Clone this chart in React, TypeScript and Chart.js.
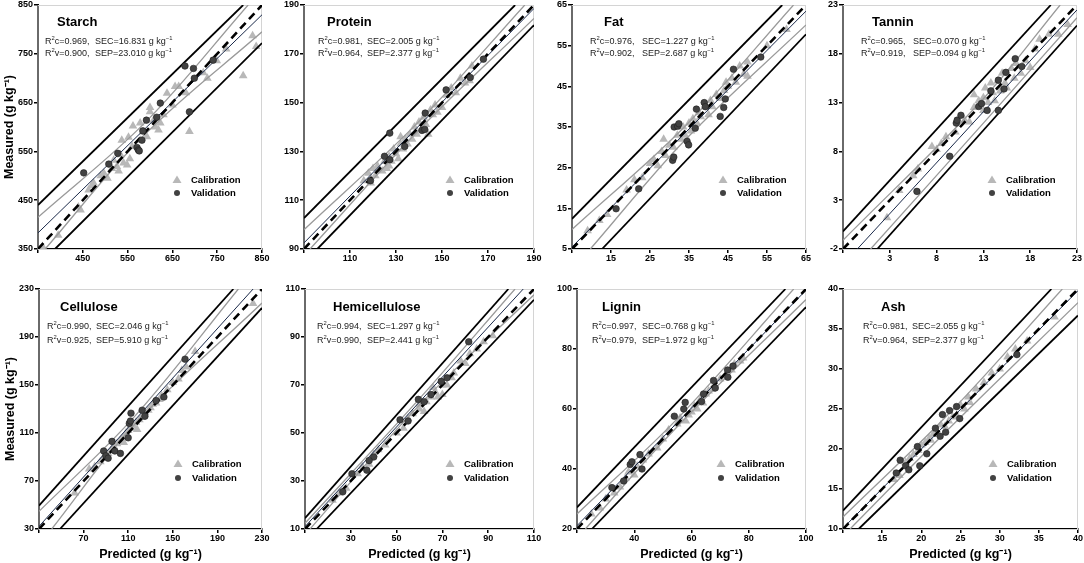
import { useEffect, useRef } from "react";
import { Chart, registerables } from "chart.js";

// register every chart.js component once
Chart.register(...registerables);

type Pt = [number, number];

// ---------------- data ----------------
const panelNames = ["Starch", "Protein", "Fat", "Tannin", "Cellulose", "Hemicellulose", "Lignin", "Ash"];

const axisTicks: number[][] = [
  [350, 450, 550, 650, 750, 850],
  [90, 110, 130, 150, 170, 190],
  [5, 15, 25, 35, 45, 55, 65],
  [-2, 3, 8, 13, 18, 23],
  [30, 70, 110, 150, 190, 230],
  [10, 30, 50, 70, 90, 110],
  [20, 40, 60, 80, 100],
  [10, 15, 20, 25, 30, 35, 40],
];

const r2c = ["0.969", "0.981", "0.976", "0.965", "0.990", "0.994", "0.997", "0.981"];
const sec = ["16.831", "2.005", "1.227", "0.070", "2.046", "1.297", "0.768", "2.055"];
const r2v = ["0.900", "0.964", "0.902", "0.919", "0.925", "0.990", "0.979", "0.964"];
const sep = ["23.010", "2.377", "2.687", "0.094", "5.910", "2.441", "1.972", "2.377"];

// calibration samples (predicted, measured)
const starchCal: Pt[] = [
  [360, 355], [395, 378], [440, 436], [445, 430], [463, 471], [470, 480], [474, 485], [490, 500],
  [497, 505], [505, 495], [515, 515], [519, 532], [526, 519], [530, 510], [534, 543], [541, 526],
  [549, 522], [552, 579], [537, 573], [555, 535], [562, 602], [578, 608], [578, 573], [593, 580],
  [600, 631], [608, 614], [619, 594], [623, 608], [600, 640], [638, 669], [656, 683], [664, 683],
  [680, 670], [688, 591], [719, 711], [728, 700], [749, 736], [770, 760], [808, 705], [829, 787],
  [837, 765], [560, 560], [585, 590], [612, 600], [630, 625], [650, 645],
];
const proteinCal: Pt[] = [
  [116, 118], [118, 121], [119, 117], [121, 120], [122, 124], [124, 122], [125, 126], [126, 123],
  [127, 128], [128, 126], [129, 131], [130, 129], [131, 127], [132, 133], [133, 131], [134, 135],
  [135, 133], [136, 137], [137, 135], [138, 140], [139, 137], [140, 142], [141, 139], [142, 144],
  [143, 141], [144, 137], [145, 147], [146, 145], [147, 149], [148, 146], [150, 148], [152, 153],
  [154, 156], [156, 154], [158, 160], [160, 158], [162, 159], [163, 165], [120, 123], [132, 136],
  [127, 124],
];
const fatCal: Pt[] = [
  [9, 9.5], [12, 12], [14, 13.5], [19, 19.5], [21, 22], [23, 22.5], [25, 26], [26, 27], [27, 25.5],
  [28, 29], [28.5, 32], [29, 28], [30, 30.5], [31, 30], [32, 33], [33, 32], [33.5, 35], [34, 33],
  [35, 36], [35.5, 34], [36, 37], [37, 36], [37.5, 38.5], [38, 37.5], [39, 40], [40, 38],
  [40.5, 41.5], [41, 40], [42, 43], [43, 42], [44, 44], [44.5, 46], [45, 45], [46, 47], [47, 46],
  [48, 50], [49, 48], [50, 51], [50, 47.5], [55, 55], [60, 59],
];
const tanninCal: Pt[] = [
  [2.7, 1.2], [4, 4], [5.5, 5.5], [6, 6.2], [7.5, 8.5], [8, 8.2], [8.5, 8.8], [9, 9.5], [10, 10],
  [11, 11.2], [11.5, 11], [12, 12.5], [12.5, 13.2], [13, 13.5], [13.2, 14.5], [13.5, 13],
  [13.8, 15], [14, 14], [14.2, 13.2], [14.5, 15.2], [14.8, 14.2], [15, 16], [15.3, 15],
  [15.5, 14.5], [16, 16.5], [16.3, 15.5], [16.5, 17], [17, 16], [17.5, 17.3], [18, 16.6],
  [18.5, 18.5], [19, 19.5], [20, 20], [21, 20], [22, 21], [13, 12.2], [12, 13.8],
];
const celluloseCal: Pt[] = [
  [62, 60], [75, 80], [80, 82], [85, 86], [88, 90], [92, 93], [95, 96], [97, 99], [100, 101],
  [103, 104], [105, 106], [108, 110], [110, 112], [113, 114], [115, 116], [117, 119], [120, 121],
  [122, 123], [125, 127], [128, 129], [130, 131], [132, 134], [135, 135], [138, 138], [140, 141],
  [145, 146], [150, 152], [155, 155], [158, 162], [162, 165], [170, 178], [222, 218], [118, 113],
  [106, 102],
];
const hemiCal: Pt[] = [
  [22, 22], [25, 25], [28, 27], [33, 33], [35, 36], [38, 37], [40, 41], [42, 43], [45, 45],
  [50, 50], [53, 52], [55, 56], [57, 58], [60, 60], [62, 59], [63, 63], [65, 65], [67, 67],
  [68, 65], [70, 70], [70, 66], [72, 70], [74, 73], [75, 75], [78, 80], [80, 79], [82, 83],
  [85, 85], [88, 88], [92, 90.5], [60, 62], [66, 69],
];
const ligninCal: Pt[] = [
  [25, 25], [28, 27], [30, 30], [33, 32], [35, 34], [37, 37], [38, 39], [40, 38], [41, 41],
  [43, 43], [45, 45], [48, 47], [50, 50], [52, 53], [55, 55], [56, 57], [58, 56], [59, 58],
  [60, 59], [61, 61], [62, 60], [63, 63], [64, 62], [65, 65], [66, 66], [67, 66.5], [68, 68],
  [70, 70], [72, 71], [74, 73], [75, 75], [77, 76], [78, 77],
];
const ashCal: Pt[] = [
  [16.5, 16.2], [17.2, 16.7], [18, 18.3], [18.5, 18.8], [19, 19.3], [19.6, 19.8], [20, 20.5],
  [20.5, 20.8], [21, 21.3], [21.5, 21.8], [22, 22], [22.5, 23], [23, 22.8], [23.5, 23.5],
  [24, 24], [24.5, 24.2], [25, 25.5], [25.5, 25], [26, 26.5], [26.2, 25.8], [27, 27.5],
  [28, 28.3], [29, 29.5], [30, 30], [31, 31.5], [32, 32.5], [33.5, 33.5], [37, 36.5], [21.2, 21.1],
];

// validation samples (predicted, measured)
const starchVal: Pt[] = [
  [452, 506], [508, 524], [528, 546], [571, 558], [574, 553], [582, 573], [584, 592], [592, 614],
  [615, 620], [623, 649], [678, 725], [697, 720], [699, 700], [741, 737], [688, 631], [576, 551],
];
const proteinVal: Pt[] = [
  [118.9, 118], [125, 128], [127.3, 126.6], [127.3, 137.5], [133.8, 132], [141.3, 138.6],
  [142.5, 139], [142.7, 145.7], [151.8, 155.2], [162.3, 160.3], [168, 167.8],
];
const fatVal: Pt[] = [
  [16.3, 14.9], [22.1, 19.8], [30.8, 26.8], [31.1, 27.6], [31.2, 35], [32.1, 35.2], [32.4, 35.8],
  [34.5, 31.5], [34.9, 30.6], [36.6, 34.7], [36.9, 39.4], [38.9, 41], [39.2, 40], [43, 37.6],
  [43.9, 39.8], [44.3, 41.9], [46.4, 49.2], [53.4, 52.2],
];
const tanninVal: Pt[] = [
  [5.9, 3.9], [9.4, 7.5], [10.1, 10.9], [10.2, 11.2], [10.6, 11.7], [12.5, 12.6], [12.8, 12.9],
  [13.4, 12.2], [14.6, 12.2], [14.6, 15.3], [15.2, 14.4], [15.4, 16.1], [16.4, 17.5],
  [17.1, 16.7], [13.8, 14.2],
];
const celluloseVal: Pt[] = [
  [88, 95], [90, 91], [92, 89], [95.5, 103], [98, 95], [103, 93], [110, 106], [111, 118],
  [112, 120], [112.5, 126.5], [122.5, 129], [125, 124], [135, 137], [142, 140], [161, 171.5],
];
const hemiVal: Pt[] = [
  [26.5, 25.5], [30.5, 33], [37, 34.5], [40, 40], [51.5, 55.5], [55, 55], [59.5, 64], [62, 63],
  [65, 66], [69.5, 71.5], [72, 73], [81.5, 88], [38, 38.5],
];
const ligninVal: Pt[] = [
  [32.2, 33.8], [36.3, 36], [38.6, 41.5], [39.2, 42.4], [42, 44.8], [42.7, 40], [54, 57.6],
  [57.3, 60], [57.8, 62.2], [63.5, 62.5], [64.2, 65], [67.7, 69.5], [68.3, 67], [72.6, 73],
  [72.7, 70.6], [74.5, 74.3],
];
const ashVal: Pt[] = [
  [16.8, 17], [17.3, 18.6], [18, 17.9], [18.4, 17.4], [19.5, 20.3], [19.8, 17.9], [20.7, 19.4],
  [21.8, 22.6], [22.4, 21.6], [22.7, 24.3], [23.1, 22.1], [23.6, 24.8], [24.5, 25.3],
  [24.9, 23.8], [32.2, 31.8],
];

const calibration = [starchCal, proteinCal, fatCal, tanninCal, celluloseCal, hemiCal, ligninCal, ashCal];
const validation = [starchVal, proteinVal, fatVal, tanninVal, celluloseVal, hemiVal, ligninVal, ashVal];

// fitted line and bands, points read at the plot edges (and near the mean for the curved bands)
const fitLine: Pt[][] = [
  [[350, 383], [850, 830]],
  [[90, 92.5], [190, 188.6]],
  [[5, 5.5], [65, 63.5]],
  [[-0.47, -2], [23, 22.5]],
  [[30, 32.2], [222, 230]],
  [[10, 11], [105.3, 110]],
  [[20, 21.1], [100, 99.6]],
  [[10, 10.1], [40, 39.8]],
];
const confUpper: Pt[][] = [
  [[350, 415], [590, 610], [819, 850]],
  [[90, 97.9], [140, 142.3], [186, 190]],
  [[5, 9.8], [34, 35.2], [61.8, 65]],
  [[-2, -1.1], [13, 13.4], [21.2, 23]],
  [[30, 44.7], [115, 123], [208.8, 230]],
  [[10, 12.4], [60, 64.3], [101.7, 110]],
  [[20, 25], [55, 56.7], [95.7, 100]],
  [[10, 11.5], [24, 24.9], [38, 40]],
];
const confLower: Pt[][] = [
  [[366, 350], [590, 586], [850, 795]],
  [[92.6, 90], [140, 138.8], [190, 184.5]],
  [[9.7, 5], [34, 31.8], [65, 60.1]],
  [[0.95, -2], [13, 10.9], [23, 21.7]],
  [[41.4, 30], [115, 116.5], [230, 218.3]],
  [[12.2, 10], [60, 61.7], [110, 107.6]],
  [[22.9, 20], [55, 54.1], [100, 96.5]],
  [[10.9, 10], [24, 23.0], [40, 38.3]],
];
const predUpper: Pt[][] = [
  [[350, 440], [808, 850]],
  [[90, 102.7], [181.8, 190]],
  [[5, 12.4], [58.9, 65]],
  [[-2, -0.2], [20.2, 23]],
  [[30, 49.4], [204.3, 230]],
  [[10, 14.5], [98.8, 110]],
  [[20, 27.2], [92.8, 100]],
  [[10, 12.3], [36.6, 40]],
];
const predLower: Pt[][] = [
  [[388, 350], [850, 772]],
  [[95.8, 90], [190, 181.8]],
  [[12.7, 5], [65, 57.8]],
  [[1.66, -2], [23, 20.9]],
  [[48.8, 30], [230, 214.2]],
  [[15.1, 10], [110, 105.5]],
  [[25.2, 20], [100, 94]],
  [[12, 10], [40, 36.7]],
];

// ---------------- layout / style ----------------
const FONT = "'Liberation Sans', Arial, Helvetica, sans-serif";
const CAL_COLOR = "#b8b8b8";
const VAL_COLOR = "#424242";
const Y_AXIS_W = 38;
const PAD_T = 8;
const PAD_R = 12;

// plot-area box of each panel in page pixels, plus offsets of the in-plot texts
const boxes = [
  { left: 38, top: 5, w: 224, h: 244, titleDx: 19, statDx: 7, statGap: 50, legendDx: 139 },
  { left: 304, top: 5, w: 230, h: 244, titleDx: 23, statDx: 14, statGap: 49, legendDx: 146 },
  { left: 572, top: 5, w: 234, h: 244, titleDx: 32, statDx: 18, statGap: 52, legendDx: 151 },
  { left: 843, top: 5, w: 234, h: 244, titleDx: 29, statDx: 18, statGap: 52, legendDx: 149 },
  { left: 39, top: 289, w: 223, h: 240, titleDx: 21, statDx: 8, statGap: 49, legendDx: 139 },
  { left: 305, top: 289, w: 229, h: 240, titleDx: 28, statDx: 12, statGap: 50, legendDx: 145 },
  { left: 577, top: 289, w: 229, h: 240, titleDx: 25, statDx: 15, statGap: 50, legendDx: 144 },
  { left: 843, top: 289, w: 235, h: 240, titleDx: 38, statDx: 20, statGap: 49, legendDx: 150 },
];

// text with superscript pieces, drawn left to right
function drawRich(ctx: CanvasRenderingContext2D, parts: [string, boolean][], x: number, y: number, size: number) {
  let cx = x;
  for (const [t, sup] of parts) {
    ctx.font = `${sup ? size * 0.65 : size}px ${FONT}`;
    ctx.fillText(t, cx, sup ? y - size * 0.38 : y);
    cx += ctx.measureText(t).width;
  }
}

const toXY = (p: Pt) => ({ x: p[0], y: p[1] });

function Panel({ i }: { i: number }) {
  const canvasRef = useRef<HTMLCanvasElement | null>(null);
  const box = boxes[i];
  const bottomRow = i >= 4;
  const axisH = bottomRow ? 34 : 20;
  const width = Y_AXIS_W + box.w + PAD_R;
  const height = PAD_T + box.h + axisH;

  useEffect(() => {
    const canvas = canvasRef.current;
    if (!canvas) return;
    const ticks = axisTicks[i];
    const min = ticks[0];
    const max = ticks[ticks.length - 1];

    const line = (pts: Pt[], color: string, w: number, dash: number[], order: number, tension = 0) => ({
      data: pts.map(toXY),
      showLine: true,
      borderColor: color,
      backgroundColor: color,
      borderWidth: w,
      borderDash: dash,
      pointRadius: 0,
      tension,
      order,
    });

    const tickFont = { family: FONT, size: 9, weight: "bold" as const };

    // light frame, texts and legend inside the plot area
    const panelText = {
      id: "panelText",
      beforeDatasetsDraw(chart: Chart) {
        const { left, top, right, bottom } = chart.chartArea;
        const ctx = chart.ctx;
        ctx.save();
        ctx.strokeStyle = "#d4d4d4";
        ctx.lineWidth = 1;
        ctx.strokeRect(left, top + 0.5, right - left - 0.5, bottom - top);
        ctx.restore();
      },
      afterDraw(chart: Chart) {
        const { left, top } = chart.chartArea;
        const ctx = chart.ctx;
        const s1 = bottomRow ? 38 : 37;
        const s2 = bottomRow ? 52 : 49;
        ctx.save();
        ctx.textBaseline = "middle";
        ctx.fillStyle = "#000";
        ctx.font = `bold 13px ${FONT}`;
        ctx.fillText(panelNames[i], left + box.titleDx, top + (bottomRow ? 18 : 17));

        ctx.fillStyle = "#222";
        const sx = left + box.statDx;
        drawRich(ctx, [["R", false], ["2", true], [`c=${r2c[i]},`, false]], sx, top + s1, 9);
        drawRich(ctx, [[`SEC=${sec[i]} g kg`, false], ["\u22121", true]], sx + box.statGap, top + s1, 9);
        drawRich(ctx, [["R", false], ["2", true], [`v=${r2v[i]},`, false]], sx, top + s2, 9);
        drawRich(ctx, [[`SEP=${sep[i]} g kg`, false], ["\u22121", true]], sx + box.statGap, top + s2, 9);

        const lx = left + box.legendDx;
        const ly1 = top + 175;
        const ly2 = top + (bottomRow ? 189 : 188);
        ctx.fillStyle = CAL_COLOR;
        ctx.beginPath();
        ctx.moveTo(lx, ly1 - 4.5);
        ctx.lineTo(lx + 4.5, ly1 + 3);
        ctx.lineTo(lx - 4.5, ly1 + 3);
        ctx.closePath();
        ctx.fill();
        ctx.fillStyle = VAL_COLOR;
        ctx.beginPath();
        ctx.arc(lx, ly2, 3, 0, Math.PI * 2);
        ctx.fill();
        ctx.fillStyle = "#000";
        ctx.font = `bold 9.5px ${FONT}`;
        ctx.fillText("Calibration", lx + 14, ly1);
        ctx.fillText("Validation", lx + 14, ly2);
        ctx.restore();
      },
    };

    const chart = new Chart(canvas, {
      type: "scatter",
      data: {
        datasets: [
          {
            data: validation[i].map(toXY),
            pointStyle: "circle",
            pointRadius: 3.3,
            backgroundColor: VAL_COLOR,
            borderColor: "#1e1e1e",
            borderWidth: 0.6,
            order: 0,
          },
          line([[min, min], [max, max]], "#000", 2.6, [8, 5], 1),
          line(fitLine[i], "#1b2a4a", 1, [], 2),
          line(confUpper[i], "#9a9a9a", 1.3, [], 3, 0.35),
          line(confLower[i], "#9a9a9a", 1.3, [], 3, 0.35),
          line(predUpper[i], "#000", 1.8, [], 4),
          line(predLower[i], "#000", 1.8, [], 4),
          {
            data: calibration[i].map(toXY),
            pointStyle: "triangle",
            pointRadius: 5,
            backgroundColor: CAL_COLOR,
            borderColor: CAL_COLOR,
            borderWidth: 0,
            order: 5,
          },
        ],
      },
      options: {
        animation: false,
        responsive: false,
        events: [],
        layout: { padding: { top: PAD_T, right: PAD_R, left: 0, bottom: 0 } },
        plugins: {
          legend: { display: false },
          tooltip: { enabled: false },
        },
        scales: {
          x: {
            type: "linear",
            min,
            max,
            afterFit: (s: any) => {
              s.height = axisH;
            },
            afterBuildTicks: (s: any) => {
              s.ticks = ticks.map((v) => ({ value: v }));
            },
            grid: { drawOnChartArea: false, tickLength: 4, color: "#000", lineWidth: 1.5 },
            border: { color: "#000", width: 2 },
            ticks: {
              padding: 0,
              font: tickFont,
              color: "#000",
              autoSkip: false,
              maxRotation: 0,
              callback: (v: any, idx: number) => (idx === 0 ? "" : String(v)),
            },
            title: {
              display: bottomRow,
              text: "Predicted (g kg\u207B\u00B9)",
              font: { family: FONT, size: 12.5, weight: "bold" },
              color: "#000",
              padding: { top: 0, bottom: 1 },
            },
          },
          y: {
            type: "linear",
            min,
            max,
            afterFit: (s: any) => {
              s.width = Y_AXIS_W;
            },
            afterBuildTicks: (s: any) => {
              s.ticks = ticks.map((v) => ({ value: v }));
            },
            grid: { drawOnChartArea: false, tickLength: 4, color: "#000", lineWidth: 1.5 },
            border: { color: "#000", width: 2 },
            ticks: {
              padding: 1,
              font: tickFont,
              color: "#000",
              autoSkip: false,
              callback: (v: any) => String(v),
            },
            title: {
              display: i % 4 === 0,
              text: "Measured (g kg\u207B\u00B9)",
              font: { family: FONT, size: 12.5, weight: "bold" },
              color: "#000",
              padding: { top: 2, bottom: 2 },
            },
          },
        },
      },
      plugins: [panelText],
    } as any);

    return () => {
      chart.destroy();
    };
  }, [i]);

  return (
    <canvas
      ref={canvasRef}
      width={width}
      height={height}
      style={{
        position: "absolute",
        left: box.left - Y_AXIS_W,
        top: box.top - PAD_T,
        width,
        height,
      }}
    />
  );
}

export default function App() {
  return (
    <div
      style={{
        position: "absolute",
        left: 0,
        top: 0,
        width: 1084,
        height: 563,
        background: "#fff",
        overflow: "hidden",
      }}
    >
      {panelNames.map((_, i) => (
        <Panel key={i} i={i} />
      ))}
    </div>
  );
}
